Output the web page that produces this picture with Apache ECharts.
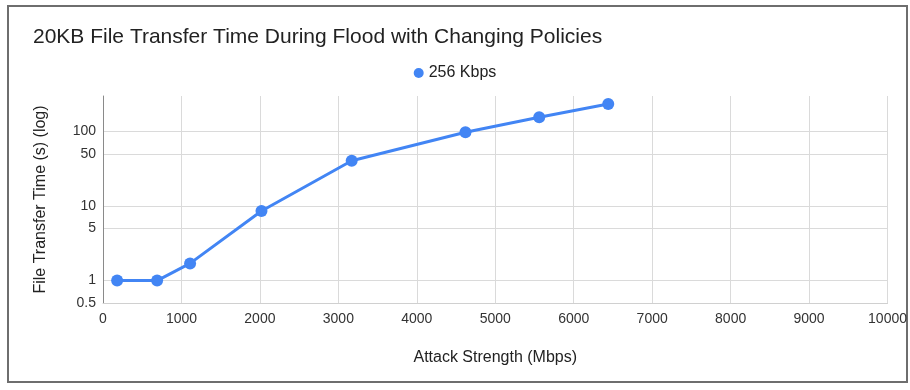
<!DOCTYPE html>
<html>
<head>
<meta charset="utf-8">
<script src="https://cdn.jsdelivr.net/npm/echarts@6/dist/echarts.min.js"></script>
<style>
html,body{margin:0;padding:0;background:#fff;}
#chart{width:910px;height:390px;}
</style>
</head>
<body>
<div id="chart"></div>
<script>
var titleText = "20KB File Transfer Time During Flood with Changing Policies";
var seriesName = "256 Kbps";
var attackStrength = [180, 690, 1110, 2020, 3170, 4620, 5560, 6440];
var transferTime = [1, 1, 1.7, 8.6, 40.5, 98, 156, 234];
var yTicks = [0.5, 1, 5, 10, 50, 100];
var xAxisName = "Attack Strength (Mbps)";
var yAxisName = "File Transfer Time (s) (log)";

var chart = echarts.init(document.getElementById('chart'), null, {renderer: 'canvas'});
var font = 'Arial, "Liberation Sans", sans-serif';
chart.setOption({
  animation: false,
  backgroundColor: '#fff',
  graphic: [{
    type: 'rect', left: 7, top: 5, z: -1,
    shape: {width: 899, height: 376},
    style: {fill: '#fff', stroke: '#6e6e6e', lineWidth: 2}
  }],
  title: {
    text: titleText, left: 28, top: 22,
    textStyle: {fontFamily: font, fontSize: 21, fontWeight: 'normal', color: '#222'}
  },
  legend: {
    top: 60, left: 'center',
    itemWidth: 10, itemHeight: 10, itemGap: 8,
    icon: 'circle',
    textStyle: {fontFamily: font, fontSize: 16, color: '#222'},
    data: [seriesName]
  },
  grid: {left: 103, right: 18, top: 96, bottom: 87, containLabel: false},
  xAxis: {
    type: 'value', min: 0, max: 10000, interval: 1000,
    name: xAxisName, nameLocation: 'middle', nameGap: 47,
    nameTextStyle: {fontFamily: font, fontSize: 16, color: '#222'},
    axisLine: {show: true, lineStyle: {color: '#d0d0d0', width: 1}},
    axisTick: {show: false},
    axisLabel: {fontFamily: font, fontSize: 14, color: '#333', margin: 9,
      formatter: function (v) { return String(v); }},
    splitLine: {show: true, lineStyle: {color: '#dadada', width: 1}}
  },
  yAxis: {
    type: 'log', logBase: 10, min: 0.5, max: 300,
    name: yAxisName, nameLocation: 'middle', nameGap: 54,
    nameTextStyle: {fontFamily: font, fontSize: 16, color: '#222'},
    axisLine: {show: true, lineStyle: {color: '#8a8a8a', width: 1}},
    axisTick: {show: false, customValues: yTicks},
    axisLabel: {fontFamily: font, fontSize: 14, color: '#333', margin: 7, customValues: yTicks,
      formatter: function (v) { return String(v); }},
    splitLine: {show: true, lineStyle: {color: '#dadada', width: 1}}
  },
  series: [{
    name: seriesName, type: 'line',
    data: attackStrength.map(function (x, i) { return [x, transferTime[i]]; }),
    symbol: 'circle', symbolSize: 12,
    lineStyle: {color: '#4285F4', width: 3},
    itemStyle: {color: '#4285F4'}
  }]
});
</script>
</body>
</html>
